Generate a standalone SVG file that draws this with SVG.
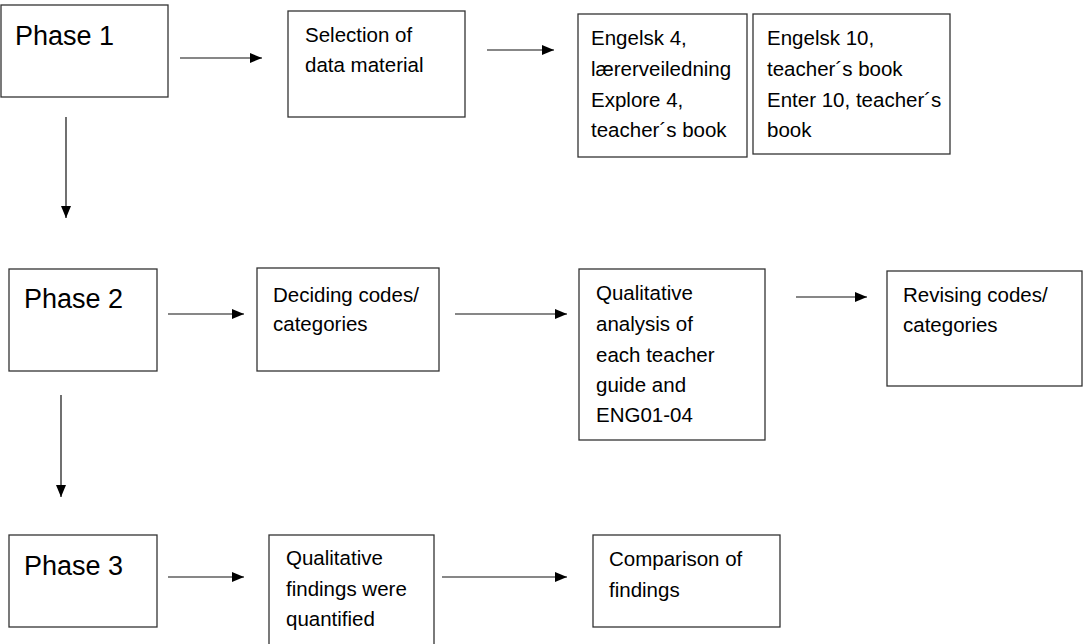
<svg xmlns="http://www.w3.org/2000/svg" width="1090" height="644" viewBox="0 0 1090 644">
<defs>
<marker id="ah" markerWidth="12" markerHeight="10" refX="12" refY="5" orient="auto" markerUnits="userSpaceOnUse">
<path d="M0,0 L12,5 L0,10 Z" fill="#000"/>
</marker>
<style>
.box{fill:#fff;stroke:#333;stroke-width:1.3}
.t{font-family:"Liberation Sans",Arial,sans-serif;font-size:20.5px;fill:#000}
.p{font-family:"Liberation Sans",Arial,sans-serif;font-size:27px;fill:#000}
.c{stroke:#111;stroke-width:1.2;fill:none;marker-end:url(#ah)}
</style>
</defs>
<rect width="1090" height="644" fill="#fff"/>
<g id="phase1"><rect class="box" x="1" y="5" width="167" height="92"/><text class="p" x="15" y="45">Phase 1</text></g>
<g id="selection"><rect class="box" x="288" y="11" width="177" height="106"/><text class="t" x="305" y="42">Selection of</text><text class="t" x="305" y="72">data material</text></g>
<g id="engelsk4"><rect class="box" x="578" y="14" width="169" height="143"/><text class="t" x="591" y="45">Engelsk 4,</text><text class="t" x="591" y="76">lærerveiledning</text><text class="t" x="591" y="107">Explore 4,</text><text class="t" x="591" y="137">teacher´s book</text></g>
<g id="engelsk10"><rect class="box" x="753" y="14" width="197" height="140"/><text class="t" x="767" y="45">Engelsk 10,</text><text class="t" x="767" y="76">teacher´s book</text><text class="t" x="767" y="107">Enter 10, teacher´s</text><text class="t" x="767" y="137">book</text></g>
<g id="phase2"><rect class="box" x="9" y="269" width="148" height="102"/><text class="p" x="24" y="308">Phase 2</text></g>
<g id="deciding"><rect class="box" x="257" y="268" width="182" height="103"/><text class="t" x="273" y="302">Deciding codes/</text><text class="t" x="273" y="331">categories</text></g>
<g id="qualitative"><rect class="box" x="579" y="269" width="186" height="171"/><text class="t" x="596" y="300">Qualitative</text><text class="t" x="596" y="331">analysis of</text><text class="t" x="596" y="362">each teacher</text><text class="t" x="596" y="392">guide and</text><text class="t" x="596" y="422">ENG01-04</text></g>
<g id="revising"><rect class="box" x="887" y="271" width="195" height="115"/><text class="t" x="903" y="302">Revising codes/</text><text class="t" x="903" y="332">categories</text></g>
<g id="phase3"><rect class="box" x="9" y="535" width="148" height="92"/><text class="p" x="24" y="575">Phase 3</text></g>
<g id="quantified"><rect class="box" x="269" y="535" width="165" height="120"/><text class="t" x="286" y="565">Qualitative</text><text class="t" x="286" y="596">findings were</text><text class="t" x="286" y="626">quantified</text></g>
<g id="comparison"><rect class="box" x="593" y="535" width="187" height="92"/><text class="t" x="609" y="566">Comparison of</text><text class="t" x="609" y="597">findings</text></g>
<g id="connectors">
<line class="c" x1="180" y1="58" x2="262" y2="58"/>
<line class="c" x1="487" y1="50" x2="554" y2="50"/>
<line class="c" x1="66" y1="117" x2="66" y2="218"/>
<line class="c" x1="168" y1="314" x2="244" y2="314"/>
<line class="c" x1="455" y1="314" x2="567" y2="314"/>
<line class="c" x1="796" y1="297" x2="867" y2="297"/>
<line class="c" x1="61" y1="395" x2="61" y2="497"/>
<line class="c" x1="168" y1="577" x2="244" y2="577"/>
<line class="c" x1="442" y1="577" x2="567" y2="577"/>
</g>
</svg>
